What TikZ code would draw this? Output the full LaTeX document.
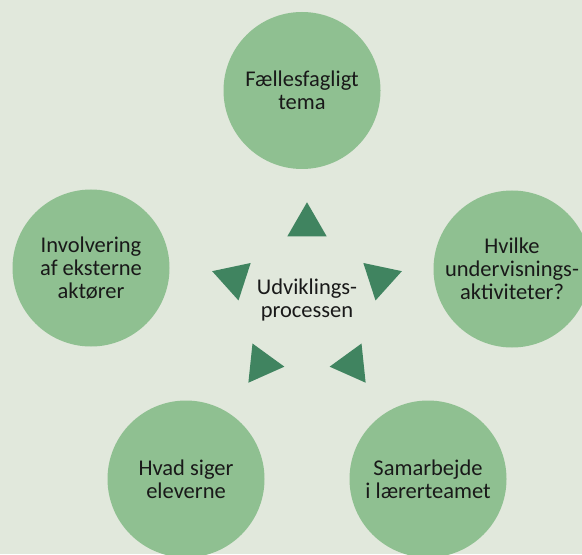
\documentclass[tikz,border=0pt]{standalone}
\usepackage{fontspec}
\setmainfont{Carlito}
\definecolor{bggreen}{RGB}{225,232,220}
\definecolor{circlegreen}{RGB}{143,192,145}
\definecolor{arrowgreen}{RGB}{64,132,96}
\tikzset{
  bubble/.style={circle, fill=circlegreen, minimum size=3.14cm, inner sep=0pt,
    align=center, text=black!90, font=\fontsize{12.8}{13.2}\selectfont},
  hubtext/.style={align=center, text=black!90, font=\fontsize{12.8}{13.2}\selectfont}
}
\begin{document}
\begin{tikzpicture}
    % Background and page size
    \fill[bggreen] (0,0) rectangle (11.64,11.08);
    \clip (0,0) rectangle (11.64,11.08);

    % Draw the five circles
    \node[bubble] (tema) at (6.04,9.27) {Fællesfagligt\\tema};
    \node[bubble] (aktiviteter) at (10.24,5.70) {Hvilke\\undervisnings-\\aktiviteter?};
    \node[bubble] (teamet) at (8.56,1.50) {Samarbejde\\i lærerteamet};
    \node[bubble] (eleverne) at (3.72,1.50) {Hvad siger\\eleverne};
    \node[bubble] (aktoerer) at (1.82,5.72) {Involvering\\af eksterne\\aktører};

    % Add the centre label
    \node[hubtext] (proces) at (6.14,5.08) {Udviklings-\\processen};

    % Draw the triangles pointing outwards
    \foreach \a in {90,18,-54,-126,162}
        \fill[arrowgreen, shift={(6.14,5.04)}, shift={(\a:1.54)}, rotate=\a]
            (0:0.455) -- (120:0.455) -- (240:0.455) -- cycle;

\end{tikzpicture}
\end{document}
